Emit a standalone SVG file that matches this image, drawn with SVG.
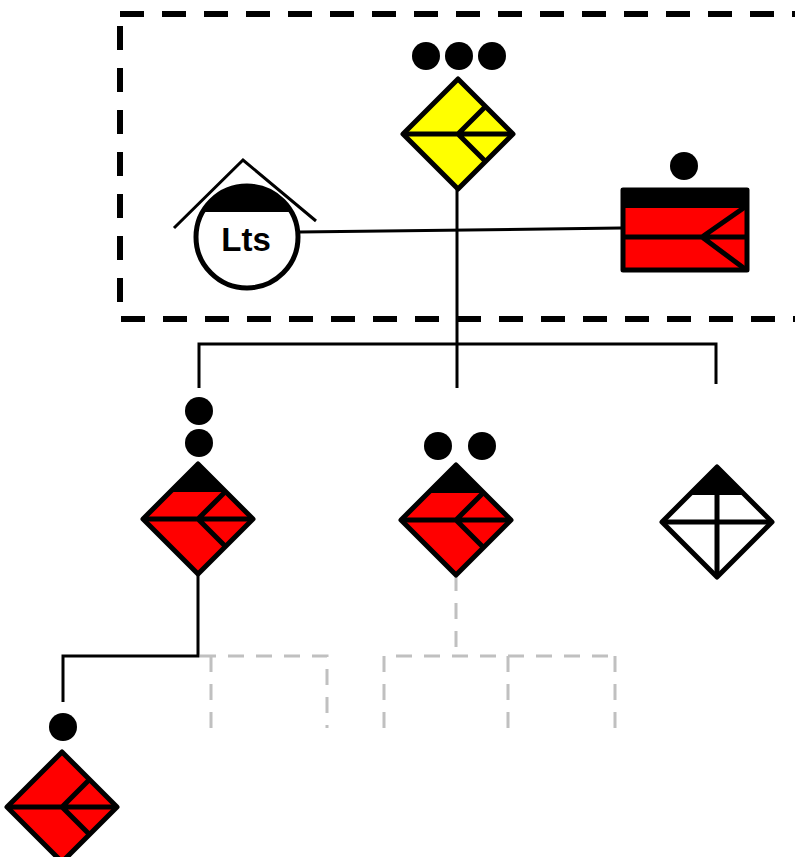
<svg xmlns="http://www.w3.org/2000/svg" xmlns:xlink="http://www.w3.org/1999/xlink" width="795" height="857" viewBox="0 0 795 857">
<style>
.ln{fill:none;stroke:#000;stroke-width:3}
.gr{fill:none;stroke:#c0c0c0;stroke-width:3;stroke-dasharray:16 12}
.sym{stroke:#000;stroke-width:5;stroke-linejoin:round}
.dot{fill:#000}
.inner{fill:none;stroke:#000;stroke-width:5}
</style>
<defs>
<g id="redDiaCap">
<path class="sym" fill="#ff0000" d="M0,-55 L55,0 L0,55 L-55,0 Z"/>
<path fill="#000" d="M0,-55 L-28,-27 L28,-27 Z"/>
<path class="inner" d="M-55,0 H55 M0,0 L27.5,-27.5 M0,0 L27.5,27.5"/>
</g>
<g id="redDia">
<path class="sym" fill="#ff0000" d="M0,-55 L55,0 L0,55 L-55,0 Z"/>
<path class="inner" d="M-55,0 H55 M0,0 L27.5,-27.5 M0,0 L27.5,27.5"/>
</g>
</defs>
<rect x="120" y="14" width="700" height="305" fill="none" stroke="#000" stroke-width="6" stroke-dasharray="24 18"/>
<g id="connectors">
<path class="ln" d="M299,232 L621,228"/>
<path class="ln" d="M457,189 V388"/>
<path class="ln" d="M199,388 V344 H716 V384"/>
<path class="ln" d="M198,574 V656 H63 V702"/>
<path class="gr" d="M200,656 H327 V728 M211,656 V728"/>
<path class="gr" d="M456,575 V656 M384,728 V656 H620 M508,656 V728 M615,656 V728"/>
</g>
<g id="node-lts">
<circle cx="247" cy="237" r="51" fill="#fff" stroke="#000" stroke-width="5"/>
<path fill="#000" d="M202.5,212 A51,51 0 0 1 291.5,212 Z"/>
<polyline points="174,228 243,160 316,221" fill="none" stroke="#000" stroke-width="3"/>
<text x="246" y="251" font-family="Liberation Sans, Arial, sans-serif" font-size="33" font-weight="bold" text-anchor="middle">Lts</text>
</g>
<g id="node-yellow">
<circle class="dot" cx="426" cy="56" r="14"/>
<circle class="dot" cx="459" cy="56" r="14"/>
<circle class="dot" cx="492" cy="56" r="14"/>
<g transform="translate(458,134)">
<path class="sym" fill="#ffff00" d="M0,-55 L55,0 L0,55 L-55,0 Z"/>
<path class="inner" d="M-55,0 H55 M0,0 L27.5,-27.5 M0,0 L27.5,27.5"/>
</g>
</g>
<g id="node-rect">
<circle class="dot" cx="684" cy="166" r="14"/>
<rect x="623" y="190" width="124" height="80" fill="#ff0000" stroke="#000" stroke-width="5" stroke-linejoin="round"/>
<rect x="621" y="188" width="128" height="20" fill="#000"/>
<path class="inner" d="M621,237 H747 M702,237 L745,207 M702,237 L745,269"/>
</g>
<g id="node-left">
<circle class="dot" cx="199" cy="411" r="14"/>
<circle class="dot" cx="199" cy="443" r="14"/>
<use xlink:href="#redDiaCap" transform="translate(198,519)"/>
</g>
<g id="node-mid">
<circle class="dot" cx="438" cy="446" r="14"/>
<circle class="dot" cx="482" cy="446" r="14"/>
<use xlink:href="#redDiaCap" transform="translate(456,520)"/>
</g>
<g id="node-white">
<g transform="translate(717,522)">
<path class="sym" fill="#fff" d="M0,-55 L55,0 L0,55 L-55,0 Z"/>
<path fill="#000" d="M0,-55 L-28,-27 L28,-27 Z"/>
<path class="inner" d="M0,-55 V55 M-55,0 H55"/>
</g>
</g>
<g id="node-bottom">
<circle class="dot" cx="63" cy="727" r="14"/>
<use xlink:href="#redDia" transform="translate(62,807)"/>
</g>
</svg>
